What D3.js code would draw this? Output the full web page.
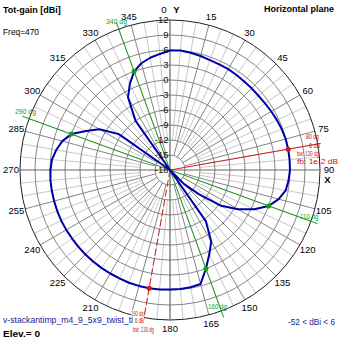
<!DOCTYPE html>
<html><head><meta charset="utf-8">
<script src="https://cdn.jsdelivr.net/npm/d3@7"></script>
<style>
html,body{margin:0;padding:0;background:#fff;}
svg{display:block;font-family:"Liberation Sans",Arial,sans-serif;}
</style>
</head><body>
<svg id="chart" width="339" height="339"></svg>
<script>
// ---- data ----
const azimuthDeg = d3.range(0, 360, 5);
const gainDbi = [
  5.9, 6.0, 5.8, 5.6, 5.4, 5.3, 5.3, 5.2, 5.1, 5.1, 5.1, 5.2,      // 0..55
  5.4, 5.6, 5.8, 5.95, 6.0, 6.0, 6.0, 5.8, 5.5, 4.5, 3.0, 0.6,     // 60..115
  -2.3, -5.5, -10.5, -14, -35, -5.5, -1.5, 0.6, 3.0, 5.6, 5.8, 5.9, // 120..175
  5.9, 6.0, 6.0, 6.0, 6.0, 5.9, 5.9, 5.9, 5.9, 5.9, 5.9, 5.9,      // 180..235
  5.95, 6.0, 6.0, 6.0, 6.0, 6.0, 5.9, 5.7, 5.1, 4.3, 3.0, 0.5,     // 240..295
  -1.7, -5.5, -25, -52, -30, -6, -1.2, 1.0, 3.0, 4.1, 4.8, 5.3     // 300..355
];
const ringTicks = [12, 9, 6, 3, 0, -3, -6, -9, -12, -15, -18];
const angleTicks = [0,15,30,45,60,75,90,105,120,135,150,165,180,210,225,240,255,270,285,300,315,330,345];
const halfPowerAngles = [340, 290, 110, 160];
const halfPowerLabels = ["340 dg", "290 dg", "110 dg", "160 dg"];
const halfPowerGain = 3;
const maxAngles = [80, 190];
const maxGain = 6;
const maxLabels80 = ["80 dg", "6 dB", "bw: 130 dg", "fb: 1e-2 dB"];
const maxLabels190 = ["190 dg", "6 dB", "bw: 130 dg"];

// ---- drawing ----
const svg = d3.select("#chart");
const cx = 170, cy = 170, R = 150;
const r = d3.scaleLinear().domain([-18, 12]).range([0, R]).clamp(true);
const rad = d => d * Math.PI / 180;
const px = (a, rr) => cx + rr * Math.sin(rad(a));
const py = (a, rr) => cy - rr * Math.cos(rad(a));

const g = svg.append("g");

// light 5-degree radials
d3.range(0, 360, 5).filter(a => a % 15 !== 0).forEach(a => {
  g.append("line").attr("x1", px(a, r(-12))).attr("y1", py(a, r(-12)))
    .attr("x2", px(a, R)).attr("y2", py(a, R))
    .attr("stroke", "#c8c8c8").attr("stroke-width", 1);
});
// dark 15-degree radials
d3.range(0, 360, 15).filter(a => a % 90 !== 0).forEach(a => {
  g.append("line").attr("x1", px(a, r(-15))).attr("y1", py(a, r(-15)))
    .attr("x2", px(a, R)).attr("y2", py(a, R))
    .attr("stroke", "#858585").attr("stroke-width", 1);
});
// rings
ringTicks.filter(t => t > -18).forEach(t => {
  g.append("circle").attr("cx", cx).attr("cy", cy).attr("r", r(t))
    .attr("fill", "none")
    .attr("stroke", t === 12 ? "#202020" : "#858585").attr("stroke-width", 1);
});
// axes
[0, 90].forEach(a => {
  g.append("line").attr("x1", px(a, R)).attr("y1", py(a, R))
    .attr("x2", px(a + 180, R)).attr("y2", py(a + 180, R))
    .attr("stroke", "#666").attr("stroke-width", 1.2);
});

// half-power lines (diameters)
[halfPowerAngles[0], halfPowerAngles[1]].forEach(a => {
  g.append("line").attr("x1", px(a, 157)).attr("y1", py(a, 157))
    .attr("x2", px(a + 180, 157)).attr("y2", py(a + 180, 157))
    .attr("stroke", "#1a9a1a").attr("stroke-width", 1);
});
// max lines
maxAngles.forEach((a, i) => {
  g.append("line").attr("x1", cx).attr("y1", cy)
    .attr("x2", px(a, 153)).attr("y2", py(a, 153))
    .attr("stroke", "#d02020").attr("stroke-width", 1)
    .attr("stroke-dasharray", i === 1 ? "7,3" : null);
});

// pattern
const pts = azimuthDeg.map((a, i) => ({a, v: gainDbi[i]}));
const line = d3.lineRadial().angle(d => rad(d.a)).radius(d => r(d.v)).curve(d3.curveLinearClosed);
svg.append("path").attr("transform", `translate(${cx},${cy})`)
  .attr("d", line(pts)).attr("fill", "none")
  .attr("stroke", "#0000a8").attr("stroke-width", 2).attr("stroke-linejoin", "round");

// markers
halfPowerAngles.forEach(a => {
  svg.append("circle").attr("cx", px(a, r(halfPowerGain))).attr("cy", py(a, r(halfPowerGain)))
    .attr("r", 2.5).attr("fill", "#10a010");
});
maxAngles.forEach(a => {
  svg.append("circle").attr("cx", px(a, r(maxGain))).attr("cy", py(a, r(maxGain)))
    .attr("r", 2.5).attr("fill", "#e01010");
});

// ring labels
ringTicks.forEach(t => {
  svg.append("text").attr("x", 168.5).attr("y", cy - r(t)).attr("dy", "0.35em")
    .attr("text-anchor", "end").attr("font-size", 9.5).attr("fill", "#111").text(t);
});
// angle labels
angleTicks.forEach(a => {
  svg.append("text").attr("x", px(a, 159) + (a === 0 ? -6 : 0)).attr("y", py(a, 159) + (a === 0 ? -1 : 0))
    .attr("dy", "0.35em").attr("text-anchor", "middle")
    .attr("font-size", 9.5).attr("fill", "#000").text(a);
});

function txt(x, y, s, opt) {
  const t = svg.append("text").attr("x", x).attr("y", y).text(s)
    .attr("font-size", opt.size || 9).attr("fill", opt.fill || "#000");
  if (opt.bold) t.attr("font-weight", "bold");
  if (opt.anchor) t.attr("text-anchor", opt.anchor);
  if (opt.len) t.attr("textLength", opt.len).attr("lengthAdjust", "spacingAndGlyphs");
  return t;
}

// half-power labels
const hpPos = [[106, 24, 21], [15, 114, 21], [300, 219, 18.5], [208, 309, 19]];
halfPowerLabels.forEach((s, i) => {
  txt(hpPos[i][0], hpPos[i][1], s, {size: 7.5, fill: "#10a010", len: hpPos[i][2]});
});

// max labels
const m80 = [[306, 138.5, 13], [309, 148, 11], [297, 156, 22], [297, 163.5, 41]];
maxLabels80.forEach((s, i) => txt(m80[i][0], m80[i][1], s, {size: 7.5, fill: "#d01010", len: m80[i][2]}));

// titles
txt(3, 13, "Tot-gain [dBi]", {bold: true, size: 9});
txt(3, 35, "Freq=470", {size: 9, len: 36});
txt(334, 12, "Horizontal plane", {bold: true, size: 9, anchor: "end"});
txt(176.5, 13, "Y", {bold: true, size: 9.5, anchor: "middle"});
txt(327.5, 183, "X", {bold: true, size: 9.5, anchor: "middle"});
txt(3, 322.5, "v-stackantimp_m4_9_5x9_twist_tl", {size: 9, fill: "#2020a0", len: 130});
txt(3, 337, "Elev.= 0", {bold: true, size: 9, len: 37});
txt(288, 325, "-52 < dBi < 6", {size: 9, fill: "#2020a0", len: 47});

const m190 = [[131, 315.5, 12.5], [135, 322.5, 9], [133, 331.5, 21]];
maxLabels190.forEach((s, i) => {
  const t = txt(m190[i][0], m190[i][1], s, {size: 7.5, fill: "#d01010", len: m190[i][2]});
  const b = t.node().getBBox();
  svg.insert("rect", () => t.node()).attr("x", b.x).attr("y", b.y + 1.5)
    .attr("width", b.width).attr("height", b.height - 2).attr("fill", "#fff");
});
</script>
</body></html>
